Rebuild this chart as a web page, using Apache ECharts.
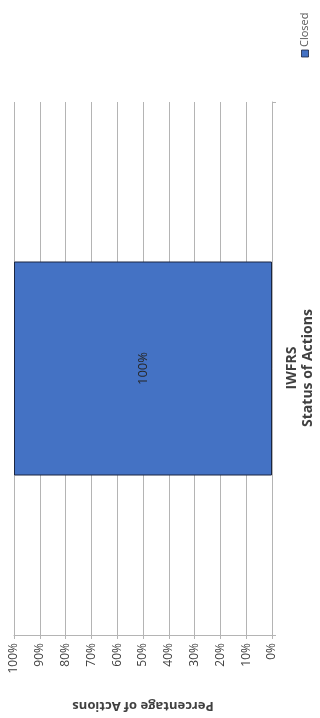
<!DOCTYPE html>
<html>
<head>
<meta charset="utf-8">
<script src="https://cdn.jsdelivr.net/npm/echarts@6/dist/echarts.min.js"></script>
<style>
html,body{margin:0;padding:0;background:#fff;}
#chart{width:320px;height:718px;}
</style>
</head>
<body>
<div id="chart"></div>
<script>
var categories = ['IWFRS'];
var seriesName = 'Closed';
var closedValues = [100];
var titleLines = ['IWFRS', 'Status of Actions'];
var axisTitle = 'Percentage of Actions';

var FONT = 'Open Sans';
var chart = echarts.init(document.getElementById('chart'), null, {renderer: 'canvas'});

var option = {
  backgroundColor: '#ffffff',
  animation: false,
  grid: {left: 14, right: 48, top: 102, bottom: 83, containLabel: false},
  xAxis: {
    type: 'value',
    min: 0, max: 100, interval: 10,
    inverse: true,
    position: 'bottom',
    axisLine: {show: true, lineStyle: {color: '#b4b4b4', width: 1}},
    axisTick: {show: true, length: 4, lineStyle: {color: '#b4b4b4'}},
    splitLine: {show: true, lineStyle: {color: '#b4b4b4', width: 1}},
    axisLabel: {rotate: 90, formatter: '{value}%', color: '#404040', fontFamily: FONT, fontSize: 12, margin: 8},
    name: axisTitle,
    nameLocation: 'middle',
    nameGap: 64,
    nameRotate: 180,
    nameTextStyle: {fontFamily: FONT, fontWeight: 'bold', fontSize: 13, color: '#404040'}
  },
  yAxis: {
    type: 'category',
    data: categories,
    position: 'right',
    axisLine: {show: true, lineStyle: {color: '#b4b4b4', width: 1}},
    axisTick: {show: true, length: 4, lineStyle: {color: '#b4b4b4'}},
    axisLabel: {show: false},
    splitLine: {show: false}
  },
  series: [{
    name: seriesName,
    type: 'bar',
    data: closedValues,
    barWidth: 214,
    itemStyle: {color: '#4472c4', borderColor: '#1a2540', borderWidth: 1},
    label: {
      show: true,
      position: 'inside',
      rotate: 90,
      formatter: function (p) { return p.value + '%'; },
      color: '#262626',
      fontFamily: FONT,
      fontSize: 13
    }
  }],
  graphic: [
    {
      type: 'text',
      x: 300, y: 368,
      rotation: Math.PI / 2,
      style: {
        text: titleLines.join('\n'),
        fontFamily: FONT, fontWeight: 'bold', fontSize: 14, lineHeight: 16,
        fill: '#404040', align: 'center', verticalAlign: 'middle'
      }
    },
    {
      type: 'group',
      x: 305, y: 57,
      rotation: Math.PI / 2,
      children: [
        {type: 'rect', shape: {x: 0, y: -3.5, width: 7, height: 7}, style: {fill: '#4472c4', stroke: '#1a2540', lineWidth: 0.8}},
        {type: 'text', x: 10, y: 0, style: {text: seriesName, fontFamily: FONT, fontSize: 11, fill: '#595959', align: 'left', verticalAlign: 'middle'}}
      ]
    }
  ]
};
chart.setOption(option);
</script>
</body>
</html>
